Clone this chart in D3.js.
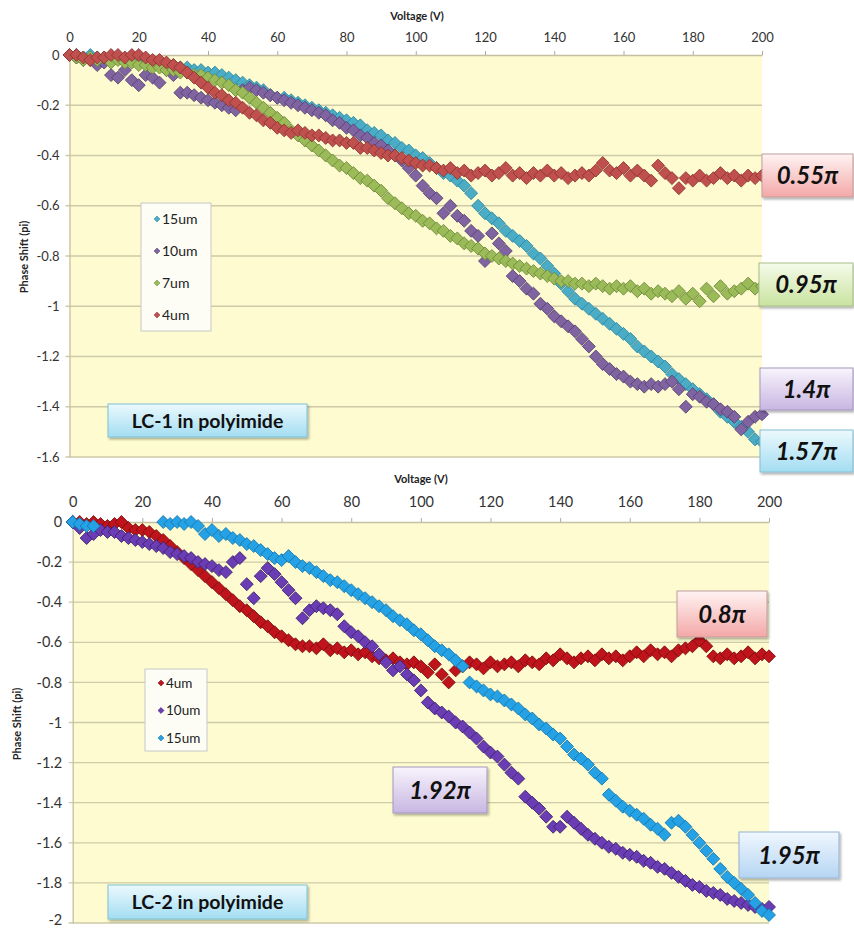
<!DOCTYPE html>
<html>
<head>
<meta charset="utf-8">
<script src="https://cdn.jsdelivr.net/npm/d3@7"></script>
<style>
  body { margin: 0; background: #fff; }
  svg { display: block; }
  text { font-family: Lato, "Open Sans", sans-serif; }
</style>
</head>
<body>
<div id="chart"></div>
<script>
// sampling voltages (V), shared by every series
const volts = [0,2,4,6,8,10,12,14,16,18,20,22,24,26,28,30,32,34,36,38,
  40,42,44,46,48,50,52,54,56,58,60,62,64,66,68,70,72,74,76,78,
  80,82,84,86,88,90,92,94,96,98,100,102,104,106,108,110,112,114,116,118,
  120,122,124,126,128,130,132,134,136,138,140,142,144,146,148,150,152,154,156,158,
  160,162,164,166,168,170,172,174,176,178,180,182,184,186,188,190,192,194,196,198,200];

const xTicks = [0,20,40,60,80,100,120,140,160,180,200];
const lc1YTicks = [0,-0.2,-0.4,-0.6,-0.8,-1,-1.2,-1.4,-1.6];
const lc2YTicks = [0,-0.2,-0.4,-0.6,-0.8,-1,-1.2,-1.4,-1.6,-1.8,-2];

// LC-1 in polyimide, phase shift in units of pi
const lc1_15um = [0,0,-0.01,0,-0.01,-0.01,-0.02,-0.01,-0.02,-0.02,
  -0.02,-0.03,-0.03,-0.03,-0.04,-0.04,-0.05,-0.05,-0.06,-0.06,
  -0.07,-0.07,-0.08,-0.09,-0.10,-0.11,-0.12,-0.13,-0.14,-0.16,
  -0.17,-0.17,-0.18,-0.19,-0.20,-0.21,-0.22,-0.23,-0.24,-0.25,
  -0.26,-0.27,-0.28,-0.30,-0.31,-0.32,-0.34,-0.35,-0.37,-0.38,
  -0.40,-0.41,-0.43,-0.45,-0.47,-0.48,-0.50,-0.52,-0.55,-0.60,
  -0.63,-0.65,-0.67,-0.70,-0.72,-0.74,-0.76,-0.79,-0.81,-0.84,
  -0.87,-0.91,-0.94,-0.97,-0.99,-1.01,-1.03,-1.05,-1.07,-1.09,
  -1.11,-1.13,-1.16,-1.18,-1.20,-1.22,-1.24,-1.27,-1.29,-1.31,
  -1.33,-1.35,-1.37,-1.39,-1.42,-1.44,-1.46,-1.48,-1.50,-1.53,
  -1.54];
const lc1_10um = [0,-0.01,-0.02,-0.02,-0.04,-0.03,-0.08,-0.09,-0.06,-0.10,
  -0.12,-0.08,-0.09,-0.11,-0.06,-0.08,-0.15,-0.15,-0.16,-0.17,
  -0.18,-0.19,-0.20,-0.21,-0.22,-0.14,-0.13,-0.14,-0.15,-0.16,
  -0.17,-0.18,-0.19,-0.20,-0.21,-0.22,-0.23,-0.24,-0.26,-0.27,
  -0.29,-0.30,-0.32,-0.33,-0.35,-0.36,-0.38,-0.40,-0.42,-0.45,
  -0.48,-0.52,-0.55,-0.57,-0.63,-0.60,-0.64,-0.66,-0.70,-0.72,
  -0.82,-0.71,-0.75,-0.78,-0.88,-0.90,-0.93,-0.95,-0.99,-1.01,
  -1.04,-1.06,-1.08,-1.10,-1.13,-1.16,-1.20,-1.23,-1.25,-1.27,
  -1.28,-1.30,-1.31,-1.32,-1.31,-1.32,-1.31,-1.30,-1.33,-1.40,
  -1.35,-1.36,-1.38,-1.39,-1.41,-1.42,-1.44,-1.49,-1.46,-1.44,
  -1.43];
const lc1_7um = [0,-0.01,-0.02,-0.01,-0.02,-0.01,-0.03,-0.02,-0.03,-0.03,
  -0.04,-0.04,-0.05,-0.05,-0.06,-0.06,-0.07,-0.07,-0.08,-0.08,
  -0.09,-0.10,-0.11,-0.12,-0.14,-0.15,-0.17,-0.19,-0.21,-0.23,
  -0.25,-0.27,-0.30,-0.32,-0.34,-0.36,-0.38,-0.40,-0.42,-0.44,
  -0.45,-0.47,-0.49,-0.50,-0.52,-0.54,-0.57,-0.59,-0.61,-0.63,
  -0.64,-0.66,-0.67,-0.69,-0.70,-0.72,-0.73,-0.75,-0.76,-0.77,
  -0.79,-0.80,-0.81,-0.82,-0.83,-0.84,-0.85,-0.86,-0.87,-0.88,
  -0.89,-0.90,-0.90,-0.91,-0.91,-0.92,-0.91,-0.92,-0.93,-0.92,
  -0.93,-0.92,-0.94,-0.93,-0.95,-0.94,-0.95,-0.96,-0.94,-0.97,
  -0.95,-0.98,-0.93,-0.96,-0.92,-0.95,-0.94,-0.93,-0.91,-0.93,
  -0.92];
const lc1_4um = [0,0,-0.01,-0.02,-0.01,-0.01,0,0,-0.01,0,
  0,-0.01,-0.02,-0.02,-0.03,-0.04,-0.05,-0.07,-0.09,-0.11,
  -0.13,-0.15,-0.16,-0.18,-0.19,-0.21,-0.23,-0.24,-0.26,-0.27,
  -0.29,-0.30,-0.31,-0.30,-0.31,-0.32,-0.32,-0.33,-0.34,-0.34,
  -0.35,-0.35,-0.37,-0.37,-0.38,-0.39,-0.40,-0.40,-0.41,-0.42,
  -0.43,-0.44,-0.44,-0.45,-0.46,-0.45,-0.47,-0.46,-0.48,-0.47,
  -0.46,-0.48,-0.47,-0.45,-0.48,-0.47,-0.49,-0.47,-0.48,-0.46,
  -0.48,-0.47,-0.49,-0.48,-0.47,-0.48,-0.46,-0.43,-0.46,-0.47,
  -0.45,-0.48,-0.46,-0.48,-0.50,-0.44,-0.47,-0.49,-0.53,-0.49,
  -0.50,-0.48,-0.50,-0.49,-0.47,-0.49,-0.48,-0.50,-0.48,-0.49,
  -0.48];

// LC-2 in polyimide
const lc2_4um = [0,0,-0.01,0,-0.01,-0.02,-0.01,0,-0.03,-0.04,
  -0.04,-0.05,-0.07,-0.09,-0.12,-0.15,-0.18,-0.21,-0.24,-0.27,
  -0.30,-0.33,-0.36,-0.39,-0.42,-0.44,-0.47,-0.50,-0.52,-0.55,
  -0.57,-0.59,-0.61,-0.62,-0.62,-0.63,-0.61,-0.64,-0.63,-0.65,
  -0.64,-0.66,-0.65,-0.67,-0.68,-0.69,-0.68,-0.70,-0.71,-0.70,
  -0.72,-0.75,-0.71,-0.76,-0.80,-0.74,-0.72,-0.70,-0.71,-0.73,
  -0.70,-0.72,-0.71,-0.70,-0.72,-0.69,-0.70,-0.71,-0.68,-0.69,
  -0.66,-0.68,-0.70,-0.68,-0.67,-0.69,-0.66,-0.68,-0.67,-0.69,
  -0.67,-0.65,-0.67,-0.64,-0.66,-0.65,-0.67,-0.64,-0.63,-0.62,
  -0.59,-0.62,-0.67,-0.68,-0.66,-0.68,-0.67,-0.65,-0.68,-0.66,
  -0.67];
const lc2_10um = [0,-0.03,-0.08,-0.06,-0.04,-0.05,-0.05,-0.07,-0.08,-0.09,
  -0.10,-0.11,-0.12,-0.13,-0.15,-0.16,-0.17,-0.18,-0.20,-0.21,
  -0.22,-0.24,-0.25,-0.20,-0.18,-0.31,-0.38,-0.27,-0.23,-0.26,
  -0.30,-0.34,-0.38,-0.48,-0.44,-0.42,-0.43,-0.44,-0.46,-0.52,
  -0.55,-0.57,-0.60,-0.62,-0.66,-0.70,-0.74,-0.72,-0.76,-0.79,
  -0.84,-0.90,-0.93,-0.95,-0.97,-1.00,-1.02,-1.05,-1.08,-1.12,
  -1.15,-1.17,-1.21,-1.25,-1.28,-1.37,-1.40,-1.43,-1.47,-1.52,
  -1.52,-1.47,-1.50,-1.53,-1.56,-1.58,-1.60,-1.62,-1.63,-1.65,
  -1.66,-1.67,-1.69,-1.70,-1.72,-1.73,-1.75,-1.77,-1.79,-1.81,
  -1.82,-1.84,-1.85,-1.86,-1.88,-1.89,-1.90,-1.91,-1.92,-1.93,
  -1.92];
const lc2_15um = [0,-0.01,-0.02,-0.02,null,null,null,null,null,null,
  null,null,null,0,-0.01,0,-0.01,0,-0.02,-0.06,
  -0.04,-0.07,-0.06,-0.08,-0.09,-0.11,-0.12,-0.14,-0.16,-0.18,
  -0.19,-0.17,-0.20,-0.22,-0.23,-0.25,-0.27,-0.29,-0.30,-0.32,
  -0.34,-0.36,-0.38,-0.40,-0.42,-0.44,-0.47,-0.49,-0.51,-0.54,
  -0.56,-0.59,-0.62,-0.64,-0.66,-0.69,-0.72,-0.80,-0.82,-0.84,
  -0.86,-0.87,-0.89,-0.91,-0.93,-0.96,-0.98,-1.01,-1.03,-1.06,
  -1.08,-1.12,-1.16,-1.18,-1.21,-1.25,-1.28,-1.36,-1.39,-1.42,
  -1.44,-1.46,-1.48,-1.51,-1.53,-1.56,-1.50,-1.49,-1.52,-1.56,
  -1.60,-1.64,-1.68,-1.73,-1.77,-1.80,-1.83,-1.86,-1.90,-1.94,
  -1.96];

const W = 854, H = 928;
const svg = d3.select('#chart').append('svg').attr('width', W).attr('height', H);
const defs = svg.append('defs');

const grads = {
  pink:   ['#fff3f3', '#f3a8a7'],
  green:  ['#f5fbea', '#c9e39f'],
  lilac:  ['#f8f4fc', '#c8b6e2'],
  cyan:   ['#ecf9fd', '#a3ddf2'],
  blue:   ['#f0f7fe', '#b5d5f3']
};
Object.entries(grads).forEach(([k, c]) => {
  const g = defs.append('linearGradient').attr('id', 'g-' + k)
    .attr('x1', 0).attr('y1', 0).attr('x2', 0).attr('y2', 1);
  g.append('stop').attr('offset', '0%').attr('stop-color', c[0]);
  g.append('stop').attr('offset', '100%').attr('stop-color', c[1]);
});
defs.append('filter').attr('id', 'shadow')
  .attr('x', '-10%').attr('y', '-10%').attr('width', '130%').attr('height', '140%')
  .append('feDropShadow').attr('dx', 1.5).attr('dy', 2).attr('stdDeviation', 1.2)
  .attr('flood-color', '#000').attr('flood-opacity', 0.3);

const panels = [
  {
    x0: 69.5, x1: 762, y0: 55, y1: 457, yMin: -1.6, yTicks: lc1YTicks,
    tickFont: 13, xPad: 9.5, yPad: 10,
    xTitle: [417, 20], yTitle: [24, 257],
    series: [
      { name: '15um', values: lc1_15um, fill: '#4bacc6', stroke: '#2f86a0' },
      { name: '10um', values: lc1_10um, fill: '#8064a2', stroke: '#54406e' },
      { name: '7um',  values: lc1_7um,  fill: '#9bbb59', stroke: '#6b873a' },
      { name: '4um',  values: lc1_4um,  fill: '#c0504d', stroke: '#8a3331' }
    ],
    legend: { x: 141, y: 203, w: 70, h: 128, row0: 16, step: 32, font: 14 },
    title: { text: 'LC-1 in polyimide', x: 108, y: 404, w: 199, h: 33 },
    notes: [
      { text: '0.55π', x: 762, y: 154, w: 91, h: 43, grad: 'pink', border: '#c29d9d' },
      { text: '0.95π', x: 759, y: 263, w: 94, h: 43, grad: 'green', border: '#a7bd8a' },
      { text: '1.4π',  x: 760, y: 368, w: 93, h: 42, grad: 'lilac', border: '#a597bd' },
      { text: '1.57π', x: 760, y: 430, w: 93, h: 42, grad: 'cyan', border: '#86bdd1' }
    ]
  },
  {
    x0: 72.7, x1: 769, y0: 522, y1: 923, yMin: -2, yTicks: lc2YTicks,
    tickFont: 14.5, xPad: 11.5, yPad: 10.5,
    xTitle: [421, 483], yTitle: [17, 724],
    series: [
      { name: '4um',  values: lc2_4um,  fill: '#c0141c', stroke: '#7a0a0e' },
      { name: '10um', values: lc2_10um, fill: '#6a3db4', stroke: '#3b1f6e' },
      { name: '15um', values: lc2_15um, fill: '#25a2e6', stroke: '#1475aa' }
    ],
    legend: { x: 145, y: 669, w: 62, h: 82, row0: 14, step: 27.5, font: 13.5 },
    title: { text: 'LC-2 in polyimide', x: 108, y: 885, w: 199, h: 34 },
    notes: [
      { text: '0.8π',  x: 677, y: 591, w: 90, h: 46, grad: 'pink', border: '#c29d9d' },
      { text: '1.92π', x: 393, y: 767, w: 94, h: 46, grad: 'lilac', border: '#a597bd' },
      { text: '1.95π', x: 739, y: 832, w: 100, h: 46, grad: 'blue', border: '#97b3d1' }
    ]
  }
];

const diamond = d3.symbol(d3.symbolSquare, 84)();
const smallDiamond = d3.symbol(d3.symbolSquare, 18)();

function drawPanel(p) {
  const w = p.x1 - p.x0, h = p.y1 - p.y0;
  const x = d3.scaleLinear().domain([0, 200]).range([0, w]);
  const y = d3.scaleLinear().domain([0, p.yMin]).range([0, h]);
  const g = svg.append('g').attr('transform', `translate(${p.x0},${p.y0})`);

  g.append('rect').attr('width', w).attr('height', h).attr('fill', '#fdfbcf');

  // horizontal gridlines
  g.append('g').selectAll('line').data(p.yTicks.slice(1)).join('line')
    .attr('x1', -4).attr('x2', w)
    .attr('y1', d => y(d)).attr('y2', d => y(d))
    .attr('stroke', '#cfcaa8').attr('stroke-width', 1.3);

  const ya = g.append('g').call(d3.axisLeft(y).tickValues(p.yTicks)
    .tickSize(0).tickPadding(p.yPad).tickFormat(d => String(+d.toFixed(1))));
  ya.select('.domain').attr('stroke', '#c4c0a4').attr('stroke-width', 1.3);
  ya.selectAll('text').attr('font-size', p.tickFont).attr('fill', '#333')
    .attr('font-family', 'Lato, sans-serif');
  // the lowest label sits on the page edge, as in the source image
  ya.selectAll('text').filter(d => d === p.yMin && p.y1 > H - 10).attr('dy', '0.1em');

  const xa = g.append('g').call(d3.axisTop(x).tickValues(xTicks)
    .tickSize(4).tickSizeOuter(0).tickPadding(p.xPad));
  xa.select('.domain').attr('stroke', '#c4c0a4').attr('stroke-width', 1.3);
  xa.selectAll('line').attr('stroke', '#b0ac94');
  xa.selectAll('text').attr('font-size', p.tickFont).attr('fill', '#333')
    .attr('font-family', 'Lato, sans-serif');

  // markers
  p.series.forEach(s => {
    const pts = volts.map((v, i) => [v, s.values[i]]).filter(d => d[1] !== null);
    g.append('g').selectAll('path').data(pts).join('path')
      .attr('d', diamond)
      .attr('transform', d => `translate(${x(d[0])},${y(d[1])}) rotate(45)`)
      .attr('fill', s.fill).attr('stroke', s.stroke).attr('stroke-width', 0.8);
  });

  // axis titles
  svg.append('text').attr('x', p.xTitle[0]).attr('y', p.xTitle[1])
    .attr('text-anchor', 'middle').attr('font-size', 11).attr('font-weight', 700)
    .attr('fill', '#222').text('Voltage (V)');
  svg.append('text')
    .attr('transform', `translate(${p.yTitle[0]},${p.yTitle[1]}) rotate(-90)`)
    .attr('text-anchor', 'middle').attr('dy', '0.35em')
    .attr('font-size', 11).attr('font-weight', 700).attr('fill', '#222')
    .text('Phase Shift (pi)');

  // legend
  const L = p.legend;
  const lg = svg.append('g').attr('transform', `translate(${L.x},${L.y})`);
  lg.append('rect').attr('width', L.w).attr('height', L.h)
    .attr('fill', '#fdfdf6').attr('stroke', '#c8c8c8');
  p.series.forEach((s, i) => {
    const row = lg.append('g').attr('transform', `translate(16,${L.row0 + i * L.step})`);
    row.append('path').attr('d', smallDiamond).attr('transform', 'rotate(45)')
      .attr('fill', s.fill).attr('stroke', s.stroke).attr('stroke-width', 0.5);
    row.append('text').attr('x', 5).attr('dy', '0.36em')
      .attr('font-size', L.font).attr('fill', '#222').text(s.name);
  });

  // chart title box
  const T = p.title;
  const tg = svg.append('g');
  tg.append('rect').attr('x', T.x).attr('y', T.y).attr('width', T.w).attr('height', T.h)
    .attr('fill', 'url(#g-cyan)').attr('stroke', '#7dc2d6').attr('filter', 'url(#shadow)');
  tg.append('text').attr('x', T.x + T.w / 2).attr('y', T.y + T.h / 2)
    .attr('dy', '0.36em').attr('text-anchor', 'middle')
    .attr('font-size', 19.5).attr('font-weight', 700).attr('fill', '#111').text(T.text);

  // phase annotations
  p.notes.forEach(n => {
    const ng = svg.append('g');
    ng.append('rect').attr('x', n.x).attr('y', n.y).attr('width', n.w).attr('height', n.h)
      .attr('fill', `url(#g-${n.grad})`).attr('stroke', n.border).attr('filter', 'url(#shadow)');
    ng.append('text').attr('x', n.x + n.w / 2).attr('y', n.y + n.h / 2)
      .attr('dy', '0.36em').attr('text-anchor', 'middle')
      .attr('font-size', 24).attr('font-weight', 700).attr('font-style', 'italic')
      .attr('fill', '#111').text(n.text);
  });
}

panels.forEach(drawPanel);
</script>
</body>
</html>
